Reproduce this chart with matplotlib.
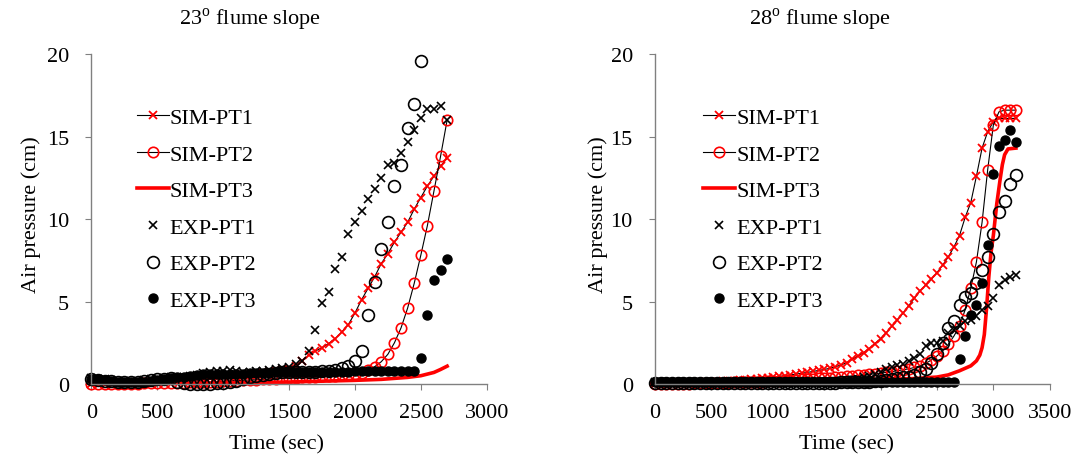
import matplotlib
matplotlib.use("Agg")
import matplotlib.pyplot as plt

plt.rcParams['font.family'] = ['Liberation Serif', 'DejaVu Serif']
plt.rcParams['mathtext.fontset'] = 'custom'
plt.rcParams['mathtext.rm'] = 'Liberation Serif'
plt.rcParams['font.size'] = 16

# ---- 23 deg flume (left) ----
t_left = list(range(0, 2701, 50))
t_left_exp2 = list(range(0, 2501, 50))
t_left_sim3 = [0, 500, 1000, 1500, 2000, 2200, 2400, 2500, 2600, 2650, 2700]

sim1_23 = [0.0, 0.0, 0.02, 0.03, 0.05, 0.06, 0.08, 0.1, 0.12, 0.14, 0.16, 0.18, 0.2, 0.22,
           0.25, 0.28, 0.3, 0.33, 0.36, 0.39, 0.42, 0.45, 0.48, 0.52, 0.56, 0.6, 0.65, 0.7,
           0.76, 0.83, 0.92,
           1.1, 1.4, 1.75, 2.0, 2.2, 2.45, 2.75, 3.15, 3.6, 4.3, 5.1, 5.8, 6.5, 7.3, 7.9,
           8.6, 9.2, 9.8, 10.6, 11.3, 12.0, 12.6, 13.2, 13.7]
sim2_23 = [0.0, 0.0, 0.0, 0.0, 0.01, 0.01, 0.02, 0.02, 0.03, 0.03, 0.04, 0.05, 0.06, 0.07,
           0.08, 0.09, 0.1, 0.11, 0.12, 0.14, 0.16, 0.18, 0.2, 0.22, 0.24, 0.26, 0.28, 0.3,
           0.32, 0.34, 0.36,
           0.38, 0.4, 0.42, 0.44, 0.46, 0.48, 0.5, 0.52, 0.55, 0.58, 0.65, 0.85, 1.05, 1.35,
           1.8, 2.5, 3.4, 4.6, 6.1, 7.8, 9.6, 11.7, 13.8, 16.0]
sim3_23 = [0.0, 0.02, 0.06, 0.12, 0.22, 0.28, 0.4, 0.5, 0.7, 0.88, 1.08]
exp1_23 = [0.35, 0.3, 0.3, 0.25, 0.2, 0.2, 0.15, 0.2, 0.25, 0.3, 0.3, 0.35, 0.4, 0.4,
           0.45, 0.5, 0.55, 0.65, 0.75, 0.8, 0.8, 0.85, 0.8, 0.75, 0.75, 0.8, 0.8, 0.85,
           0.9, 0.95, 1.0,
           1.2, 1.4, 2.0, 3.3, 4.9, 5.6, 7.0, 7.7, 9.1, 9.8, 10.5, 11.2, 11.8, 12.5, 13.3,
           13.4, 14.0, 14.7, 15.4, 16.1, 16.7, 16.7, 16.85, 16.0]
exp2_23 = [0.3, 0.25, 0.2, 0.2, 0.15, 0.1, 0.1, 0.15, 0.2, 0.25, 0.3, 0.3, 0.35, 0.1,
           0.05, 0.0, 0.0, 0.0, 0.0, 0.05, 0.05, 0.1, 0.2, 0.3, 0.4, 0.5, 0.55, 0.6,
           0.65, 0.7, 0.7,
           0.7, 0.7, 0.75, 0.75, 0.8, 0.8, 0.85, 0.95, 1.1, 1.4, 2.0, 4.2, 6.2, 8.2, 9.8,
           12.0, 13.3, 15.5, 17.0, 19.6]
exp3_23 = [0.3, 0.3, 0.25, 0.2, 0.15, 0.1, 0.1, 0.1, 0.15, 0.2, 0.25, 0.3, 0.35, 0.4,
           0.45, 0.5, 0.55, 0.6, 0.6, 0.6, 0.6, 0.6, 0.6, 0.6, 0.65, 0.65, 0.65, 0.65,
           0.7, 0.7, 0.7,
           0.7, 0.7, 0.75, 0.75, 0.75, 0.75, 0.75, 0.75, 0.75, 0.8, 0.8, 0.8, 0.8, 0.8,
           0.8, 0.8, 0.8, 0.8, 0.8, 1.6, 4.2, 6.3, 6.9, 7.6]

# ---- 28 deg flume (right) ----
t_right = list(range(0, 3201, 50))
t_right_sim3 = [0, 500, 1000, 1500, 2000, 2300, 2500, 2600, 2700, 2800, 2850, 2880, 2900,
                2920, 2940, 2960, 2980, 3000, 3030, 3060, 3080, 3100, 3130, 3200]

sim1_28 = [0.0, 0.0, 0.01, 0.02, 0.03, 0.04, 0.05, 0.06, 0.08, 0.1, 0.12, 0.14, 0.16, 0.18,
           0.2, 0.23, 0.26, 0.29, 0.32, 0.35, 0.38, 0.42, 0.46, 0.5, 0.55, 0.6, 0.65, 0.7,
           0.76, 0.82, 0.88,
           0.95, 1.05, 1.15, 1.3, 1.5, 1.7, 1.9, 2.15, 2.45, 2.75, 3.1, 3.5, 3.9, 4.3, 4.75,
           5.2, 5.65, 6.0, 6.35, 6.75, 7.2, 7.7, 8.3, 9.0, 10.1, 11.0, 12.6, 14.3, 15.3,
           15.9, 16.1, 16.1, 16.1, 16.1]
sim2_28 = [0.0, 0.0, 0.0, 0.01, 0.01, 0.02, 0.02, 0.03, 0.03, 0.04, 0.05, 0.06, 0.07, 0.08,
           0.09, 0.1, 0.11, 0.12, 0.13, 0.15, 0.17, 0.19, 0.21, 0.23, 0.25, 0.27, 0.29, 0.31,
           0.33, 0.35, 0.37,
           0.39, 0.41, 0.43, 0.46, 0.49, 0.52, 0.55, 0.58, 0.62, 0.66, 0.7, 0.75, 0.8, 0.86,
           0.92, 1.0, 1.1, 1.25, 1.45, 1.7, 2.0, 2.4, 2.9, 3.5, 4.5, 5.8, 7.4, 9.8, 13.0,
           15.7, 16.5, 16.6, 16.6, 16.6]
sim3_28 = [0.0, 0.05, 0.1, 0.18, 0.26, 0.33, 0.42, 0.55, 0.8, 1.1, 1.4, 1.75, 2.2,
           3.0, 4.6, 6.5, 8.0, 9.0, 10.9, 12.4, 13.3, 13.9, 14.25, 14.3]
exp1_28 = [0.1, 0.05, 0.05, 0.05, 0.05, 0.05, 0.05, 0.05, 0.05, 0.05, 0.05, 0.05, 0.05, 0.05,
           0.05, 0.05, 0.05, 0.05, 0.05, 0.05, 0.05, 0.05, 0.05, 0.05, 0.1, 0.1, 0.1, 0.1,
           0.1, 0.1, 0.1,
           0.15, 0.15, 0.2, 0.2, 0.25, 0.3, 0.4, 0.5, 0.6, 0.75, 0.9, 1.05, 1.15, 1.2, 1.4,
           1.6, 1.8, 2.3, 2.5, 2.5, 2.6, 3.1, 3.3, 3.5, 3.8, 3.9, 4.1, 4.5, 4.7, 5.2,
           6.0, 6.3, 6.5, 6.6]
exp2_28 = [0.05, 0.05, 0.05, 0.05, 0.05, 0.05, 0.05, 0.05, 0.05, 0.05, 0.05, 0.05, 0.05, 0.05,
           0.05, 0.05, 0.05, 0.05, 0.05, 0.05, 0.05, 0.05, 0.05, 0.05, 0.05, 0.05, 0.05, 0.05,
           0.05, 0.05, 0.05,
           0.05, 0.05, 0.1, 0.1, 0.1, 0.1, 0.15, 0.15, 0.2, 0.2, 0.25, 0.3, 0.35, 0.4, 0.45,
           0.55, 0.7, 0.9, 1.3, 1.8, 2.5, 3.4, 3.8, 4.8, 5.3, 5.5, 6.1, 6.9, 7.7, 9.1,
           10.4, 11.1, 12.15, 12.65]
exp3_28 = [0.1, 0.1, 0.1, 0.1, 0.1, 0.1, 0.1, 0.1, 0.1, 0.1, 0.1, 0.1, 0.1, 0.1,
           0.1, 0.1, 0.1, 0.1, 0.1, 0.1, 0.1, 0.1, 0.1, 0.1, 0.1, 0.1, 0.1, 0.1,
           0.1, 0.1, 0.1,
           0.1, 0.1, 0.1, 0.1, 0.1, 0.1, 0.1, 0.1, 0.1, 0.1, 0.1, 0.1, 0.1, 0.1, 0.1,
           0.1, 0.1, 0.1, 0.1, 0.1, 0.1, 0.1, 0.1, 1.5, 2.9, 4.2, 4.8, 6.1, 8.4, 12.7,
           14.4, 14.8, 15.4, 14.7]

labels = ['SIM-PT1', 'SIM-PT2', 'SIM-PT3', 'EXP-PT1', 'EXP-PT2', 'EXP-PT3']


def draw(ax, t, t_exp2, t_sim3, s1, s2, s3, e1, e2, e3, xmax, leg_x):
    ax.plot(t, s1, color='black', lw=0.8, marker='x', ms=6, mec='red', mew=1.3,
            clip_on=False, label=labels[0])
    ax.plot(t, s2, color='black', lw=0.8, marker='o', ms=7.5, mfc='none', mec='red',
            mew=1.2, clip_on=False, label=labels[1])
    ax.plot(t_sim3, s3, color='red', lw=2.6, clip_on=False, label=labels[2])
    ax.plot(t, e1, ls='none', marker='x', ms=6, mec='black', mew=1.2,
            clip_on=False, label=labels[3])
    ax.plot(t_exp2, e2, ls='none', marker='o', ms=8.5, mfc='none', mec='black', mew=1.2,
            clip_on=False, label=labels[4])
    ax.plot(t, e3, ls='none', marker='o', ms=6.5, color='black',
            clip_on=False, label=labels[5])

    ax.set_xlim(0, xmax)
    ax.set_ylim(0, 20)
    ax.set_xticks(range(0, xmax + 1, 500))
    ax.set_yticks([0, 5, 10, 15, 20])
    for s in ['top', 'right']:
        ax.spines[s].set_visible(False)
    for s in ['left', 'bottom']:
        ax.spines[s].set_color('#808080')
        ax.spines[s].set_linewidth(1.0)
    ax.tick_params(axis='x', direction='out', length=4, color='#808080', pad=10, labelsize=16)
    ax.tick_params(axis='y', direction='out', length=4, color='#808080', pad=12, labelsize=16)

    ax.set_xlabel('Time (sec)', fontsize=16)
    ax.set_ylabel('Air pressure (cm)', fontsize=16)
    ax.legend(loc='upper left', bbox_to_anchor=(leg_x, 0.838), frameon=False,
              borderpad=0, borderaxespad=0, handlelength=1.45, handletextpad=0.05,
              labelspacing=0.72, fontsize=16, numpoints=1)


fig = plt.figure(figsize=(10.75, 4.64), dpi=100)
ax1 = fig.add_axes([0.0851, 0.1703, 0.3676, 0.711])
ax2 = fig.add_axes([0.6093, 0.1703, 0.3672, 0.711])

draw(ax1, t_left, t_left_exp2, t_left_sim3, sim1_23, sim2_23, sim3_23,
     exp1_23, exp2_23, exp3_23, 3000, 0.114)
draw(ax2, t_right, t_right, t_right_sim3, sim1_28, sim2_28, sim3_28,
     exp1_28, exp2_28, exp3_28, 3500, 0.122)

ax1.xaxis.set_label_coords(0.469, -0.152)
ax2.xaxis.set_label_coords(0.484, -0.152)
ax1.yaxis.set_label_coords(-0.128, 0.515)
ax2.yaxis.set_label_coords(-0.118, 0.515)

fig.text(250 / 1075, 1 - 20 / 464, r'23$^{\mathrm{o}}$ flume slope', ha='center', va='center', fontsize=16)
fig.text(820 / 1075, 1 - 20 / 464, r'28$^{\mathrm{o}}$ flume slope', ha='center', va='center', fontsize=16)

fig.savefig('out.png', dpi=100)
